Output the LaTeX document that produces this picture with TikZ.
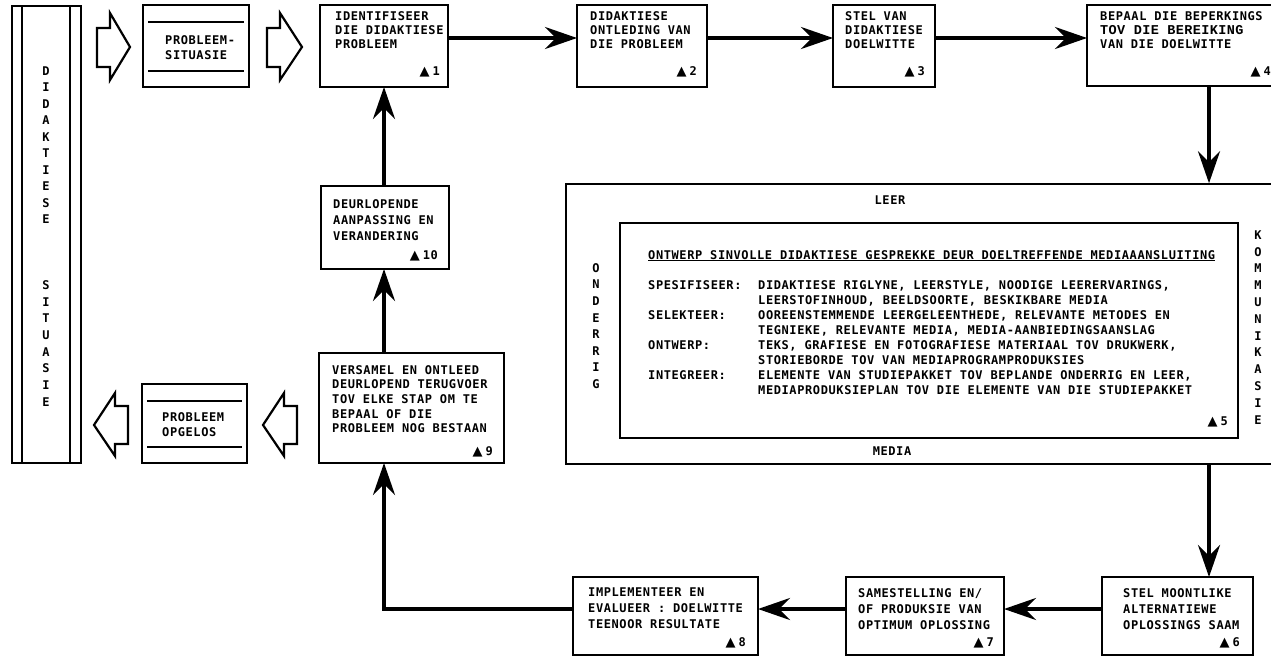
\documentclass[tikz,border=0pt]{standalone}
\usepackage{fontspec}
\usetikzlibrary{arrows.meta}
\newfontfamily\tmono{DejaVu Sans Mono}[LetterSpace=5]
\newfontfamily\tcour{Liberation Mono}[LetterSpace=3]
\newfontfamily\tsym{DejaVu Sans}
\newcommand\ftx[1]{\fontsize{12}{#1}\selectfont\tmono\bfseries}
\newcommand\tri[1]{{\tsym\fontsize{13}{13}\selectfont\char"25B2}\hspace{3pt}#1}
% rectangle node given by its corners (pixel-like units, y downwards)
\newcommand\boxat[5]{\node[box, minimum width={(#4)-(#2)}, minimum height={(#5)-(#3)}] (#1) at ({((#2)+(#4))/2},{((#3)+(#5))/2}) {};}
\begin{document}
\begin{tikzpicture}[x=1pt,y=-1pt,
  box/.style={draw, line width=2.2pt, inner sep=0pt, outer sep=0pt},
  txt/.style={font={\ftx{#1}}, align=left, inner sep=0pt, anchor=north west},
  num/.style={font={\ftx{14}}, inner sep=0pt, anchor=east},
  vl/.style={font={\ftx{12}}, inner sep=0pt},
  arr/.style={line width=4pt, -{Stealth[length=32pt,width=22pt,inset=11pt]}},
  blk/.style={draw, line width=2.2pt, line join=miter},
  rule/.style={line width=1.5pt}]
\useasboundingbox (0,0) rectangle (1271,659);
\clip (0,0) rectangle (1271,659);

% ---- left column: situation bar and the two framed labels
\boxat{bar}{12}{6}{81}{463}
\draw[line width=1.8pt] (22,6) -- (22,463) (70,6) -- (70,463);
\foreach \c [count=\i from 0] in {D,I,D,A,K,T,I,E,S,E}
  \node[vl] (ld\i) at (46,{71+16.5*\i}) {\c};
\foreach \c [count=\i from 0] in {S,I,T,U,A,S,I,E}
  \node[vl] (ls\i) at (46,{285+16.7*\i}) {\c};

\boxat{sit}{143}{5}{249}{87}
\draw[rule] (148,22) -- (244,22) (148,71) -- (244,71);
\node[txt=15] (tsit) at (165,35) {PROBLEEM-\\SITUASIE};

\boxat{opg}{142}{384}{247}{463}
\draw[rule] (147,401) -- (242,401) (147,447) -- (242,447);
\node[txt=15] (topg) at (162,412) {PROBLEEM\\OPGELOS};

% block arrows
\draw[blk] (97,28) -- (110,28) -- (110,13) -- (130,47) -- (110,80) -- (110,67) -- (97,67) -- cycle;
\draw[blk] (267,28) -- (280,28) -- (280,13) -- (302,47) -- (280,80) -- (280,67) -- (267,67) -- cycle;
\draw[blk] (128,406) -- (115,406) -- (115,393) -- (94,425) -- (115,456) -- (115,444) -- (128,444) -- cycle;
\draw[blk] (297,406) -- (284,406) -- (284,393) -- (263,425) -- (284,456) -- (284,444) -- (297,444) -- cycle;

% ---- top row
\boxat{b1}{320}{5}{448}{87}
\node[txt=14] (t1) at (335,11) {IDENTIFISEER\\DIE DIDAKTIESE\\PROBLEEM};
\node[num] (n1) at (440,72) {\tri{1}};

\boxat{b2}{577}{5}{707}{87}
\node[txt=14] (t2) at (590,11) {DIDAKTIESE\\ONTLEDING VAN\\DIE PROBLEEM};
\node[num] (n2) at (697,72) {\tri{2}};

\boxat{b3}{833}{5}{935}{87}
\node[txt=14] (t3) at (845,11) {STEL VAN\\DIDAKTIESE\\DOELWITTE};
\node[num] (n3) at (925,72) {\tri{3}};

\boxat{b4}{1087}{5}{1290}{86}
\node[txt=14] (t4) at (1100,11) {BEPAAL DIE BEPERKINGS\\{\tcour\bfseries\fontsize{13.5}{14}\selectfont TOV DIE BEREIKING}\\VAN DIE DOELWITTE};
\node[num] (n4) at (1271,72) {\tri{4}};

% ---- central frame
\node[draw, line width=1.5pt, inner sep=0pt, minimum width=724, minimum height=280] (big) at (928,324) {};
\node[draw, line width=2.2pt, inner sep=0pt, minimum width=618, minimum height=215] (inner) at (929,330.5) {};
\node[vl] (leer) at (890,200) {LEER};
\node[vl] (media) at (892,451) {MEDIA};
\foreach \c [count=\i from 0] in {O,N,D,E,R,R,I,G}
  \node[vl] (on\i) at (596,{268+16.6*\i}) {\c};
\foreach \c [count=\i from 0] in {K,O,M,M,U,N,I,K,A,S,I,E}
  \node[vl] (ko\i) at (1258,{235+16.8*\i}) {\c};

\node[txt=15] (head) at (648,250) {\underline{ONTWERP SINVOLLE DIDAKTIESE GESPREKKE DEUR DOELTREFFENDE MEDIAAANSLUITING}};
\node[txt=15] (l1) at (648,280) {SPESIFISEER:};
\node[txt=15] (l2) at (648,310) {SELEKTEER:};
\node[txt=15] (l3) at (648,340) {ONTWERP:};
\node[txt=15] (l4) at (648,370) {INTEGREER:};
\node[txt=15] (desc) at (758,280) {DIDAKTIESE RIGLYNE, LEERSTYLE, NOODIGE LEERERVARINGS,\\
LEERSTOFINHOUD, BEELDSOORTE, BESKIKBARE MEDIA\\
OOREENSTEMMENDE LEERGELEENTHEDE, RELEVANTE METODES EN\\
TEGNIEKE, RELEVANTE MEDIA, MEDIA-AANBIEDINGSAANSLAG\\
TEKS, GRAFIESE EN FOTOGRAFIESE MATERIAAL TOV DRUKWERK,\\
STORIEBORDE TOV VAN MEDIAPROGRAMPRODUKSIES\\
ELEMENTE VAN STUDIEPAKKET TOV BEPLANDE ONDERRIG EN LEER,\\
MEDIAPRODUKSIEPLAN TOV DIE ELEMENTE VAN DIE STUDIEPAKKET};
\node[num] (n5) at (1228,422) {\tri{5}};

% ---- bottom row
\boxat{b6}{1102}{577}{1253}{655}
\node[txt=16] (t6) at (1123,588) {STEL MOONTLIKE\\ALTERNATIEWE\\OPLOSSINGS SAAM};
\node[num] (n6) at (1240,643) {\tri{6}};

\boxat{b7}{846}{577}{1004}{655}
\node[txt=16] (t7) at (858,588) {SAMESTELLING EN/\\OF PRODUKSIE VAN\\OPTIMUM OPLOSSING};
\node[num] (n7) at (994,643) {\tri{7}};

\boxat{b8}{573}{577}{758}{655}
\node[txt=16] (t8) at (588,588) {IMPLEMENTEER EN\\EVALUEER : DOELWITTE\\TEENOOR RESULTATE};
\node[num] (n8) at (746,643) {\tri{8}};

% ---- feedback column
\boxat{b9}{319}{353}{504}{463}
\node[txt=14.7] (t9) at (332,365) {VERSAMEL EN ONTLEED\\DEURLOPEND TERUGVOER\\TOV ELKE STAP OM TE\\BEPAAL OF DIE\\PROBLEEM NOG BESTAAN};
\node[num] (n9) at (493,452) {\tri{9}};

\boxat{b10}{321}{186}{449}{269}
\node[txt=16] (t10) at (333,199) {DEURLOPENDE\\AANPASSING EN\\VERANDERING};
\node[num] (n10) at (438,256) {\tri{10}};

% ---- connectors
\coordinate (ty) at (0,38);
\coordinate (rx) at (1209,0);
\coordinate (by) at (0,609);
\coordinate (vx) at (384,0);
\draw[arr] (b1.east |- ty) -- (b2.west |- ty);
\draw[arr] (b2.east |- ty) -- (b3.west |- ty);
\draw[arr] (b3.east |- ty) -- (b4.west |- ty);
\draw[arr] (b4.south -| rx) -- (big.north -| rx);
\draw[arr] (big.south -| rx) -- (b6.north -| rx);
\draw[arr] (b6.west |- by) -- (b7.east |- by);
\draw[arr] (b7.west |- by) -- (b8.east |- by);
\draw[arr, line join=miter] (b8.west |- by) -| (b9.south -| vx);
\draw[arr] (b9.north -| vx) -- (b10.south -| vx);
\draw[arr] (b10.north -| vx) -- (b1.south -| vx);
\end{tikzpicture}
\end{document}
